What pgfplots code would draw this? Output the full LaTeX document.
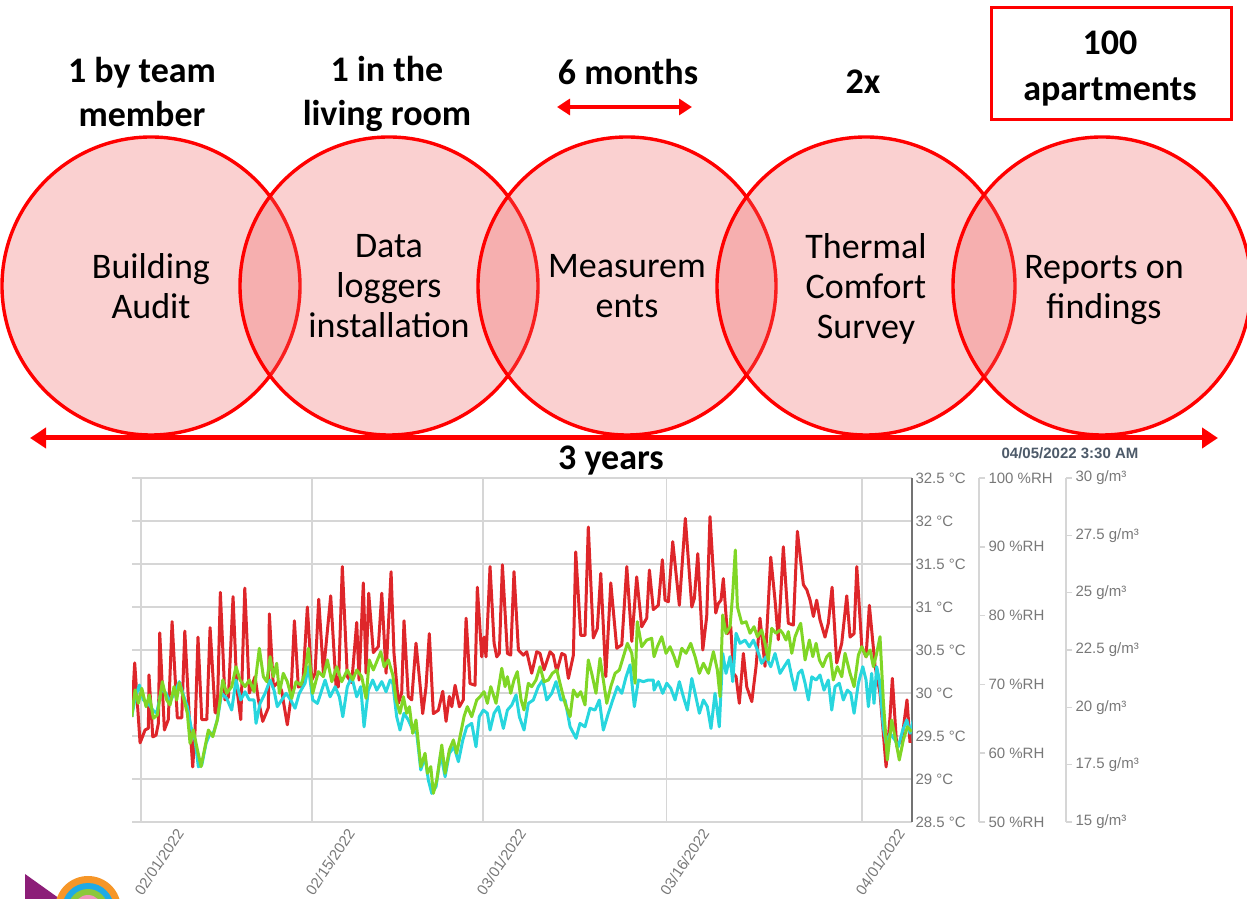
\documentclass[border=0pt]{standalone}
\usepackage{pgfplots}
\pgfplotsset{compat=1.18}
\usepackage{fontspec}
\setmainfont{Carlito}
\newfontfamily\arial{Liberation Sans}
\usetikzlibrary{arrows.meta}
\definecolor{pptred}{RGB}{255,0,0}
\definecolor{circfill}{RGB}{238,100,100}
\definecolor{tred}{RGB}{222,38,42}
\definecolor{tgreen}{RGB}{128,214,38}
\definecolor{tcyan}{RGB}{40,214,222}
\definecolor{tickgray}{RGB}{120,120,120}
\definecolor{gridgray}{RGB}{214,214,214}
\definecolor{titlegray}{RGB}{77,90,105}
\definecolor{lpurple}{RGB}{140,30,120}
\definecolor{lorange}{RGB}{246,150,40}
\definecolor{lblue}{RGB}{30,170,230}
\definecolor{lgreen}{RGB}{140,200,60}
\definecolor{lpink}{RGB}{240,150,190}
\begin{document}
\begin{tikzpicture}
\useasboundingbox (0,0) rectangle (1247pt,899pt);
% ---------- process diagram ----------
\foreach \cx in {151,389,627,866,1102} {
  \draw[pptred, line width=3.4pt, fill=circfill, fill opacity=0.3] (\cx pt,613pt) circle (149pt);
}
\begin{scope}[font=\fontsize{36}{40}\selectfont]
\node[align=center] at (151pt,613pt) {Building\\Audit};
\node[align=center] at (389pt,613pt) {Data\\loggers\\installation};
\node[align=center] at (627pt,613pt) {Measurem\\ents};
\node[align=center] at (866pt,610pt) {Thermal\\Comfort\\Survey};
\node[align=center] at (1104pt,609pt) {Reports on\\findings};
\end{scope}
\begin{scope}[font=\bfseries\fontsize{36}{44}\selectfont]
\node[align=center] at (142pt,807pt) {1 by team\\member};
\node[align=center] at (387pt,805pt) {1 in the\\living room};
\node at (628pt,827pt) {6 months};
\node at (863pt,817pt) {2x};
\node[align=center, font=\bfseries\fontsize{36}{46}\selectfont] at (1110pt,830pt) {100\\apartments};
\node at (611pt,438pt) {3 years};
\end{scope}
\draw[pptred, line width=3pt] (991pt,891pt) rectangle (1231pt,779pt);
\draw[pptred, line width=4pt, {Triangle[length=13pt,width=16pt]}-{Triangle[length=13pt,width=16pt]}] (557pt,792pt) -- (692pt,792pt);
\draw[pptred, line width=5pt, {Triangle[length=16pt,width=20pt]}-{Triangle[length=16pt,width=20pt]}] (30pt,461pt) -- (1218pt,461pt);
\node[font=\arial\bfseries\fontsize{15}{18}\selectfont, text=titlegray] at (1070pt,446pt) {04/05/2022 3:30 AM};
% ---------- logo (partial) ----------
\fill[lpurple] (25pt,25pt) -- (25pt,0pt) -- (60pt,0pt) -- cycle;
\fill[lorange] (88pt,-10pt) circle (33pt);
\fill[lblue] (88pt,-10pt) circle (26pt);
\fill[lgreen] (88pt,-10pt) circle (20pt);
\fill[lpink] (88pt,-10pt) circle (14pt);
\fill[white] (88pt,-10pt) circle (8pt);
% ---------- temperature axis ----------
\begin{axis}[
  at={(132pt,77pt)}, anchor=south west,
  scale only axis, width=780pt, height=344pt,
  xmin=-0.74, xmax=63.09, ymin=28.5, ymax=32.5,
  axis x line*=bottom, axis y line*=right,
  x axis line style={gridgray, line width=1.5pt, -},
  y axis line style={black!55, line width=1.5pt, -},
  xtick={0,14,28,43,59},
  xticklabels={02/01/2022,02/15/2022,03/01/2022,03/16/2022,04/01/2022},
  ytick={28.5,29,29.5,30,30.5,31,31.5,32,32.5},
  yticklabels={28.5 °C,29 °C,29.5 °C,30 °C,30.5 °C,31 °C,31.5 °C,32 °C,32.5 °C},
  major tick length=0pt,
  xmajorgrids, ymajorgrids,
  major grid style={gridgray, line width=1.5pt},
  tick label style={font=\arial\fontsize{15}{18}\selectfont, text=tickgray},
  xticklabel style={xshift=41pt, yshift=-6pt, rotate=56, anchor=east},
]
\addplot[tred, line width=3pt, line join=round] coordinates {
(-0.76,29.72)(-0.52,30.35)(-0.08,29.42)(0.33,29.57)(0.60,29.59)(0.65,30.21)(0.96,29.49)(1.23,29.51)(1.42,29.65)(1.53,30.70)(1.91,29.57)(2.23,29.69)(2.54,30.83)(2.97,29.71)(3.33,29.71)(3.58,30.72)(3.95,29.72)(4.23,29.14)(4.42,29.57)(4.66,30.65)(4.97,29.69)(5.38,29.69)(5.65,30.76)(6.06,29.77)(6.24,29.77)(6.49,31.17)(6.87,29.92)(7.15,29.95)(7.53,31.12)(7.83,30.07)(8.16,29.69)(8.49,31.22)(8.86,30.00)(9.33,30.19)(9.60,29.92)(9.96,29.67)(10.42,29.83)(10.50,30.92)(10.83,30.07)(11.24,30.13)(11.51,30.02)(11.97,29.63)(12.25,29.92)(12.55,30.84)(12.87,30.07)(13.23,30.09)(13.61,31.00)(13.97,30.15)(14.24,30.23)(14.54,31.09)(14.92,30.23)(15.52,31.13)(15.96,30.07)(16.15,30.07)(16.47,31.47)(16.88,30.19)(17.24,30.12)(17.65,30.82)(17.84,30.15)(18.19,31.28)(18.41,30.23)(18.63,31.16)(19.01,30.47)(19.42,30.54)(19.70,31.16)(20.05,30.23)(20.46,31.41)(20.70,30.46)(21.06,29.88)(21.33,30.00)(21.52,30.84)(21.87,29.96)(22.15,29.92)(22.50,30.58)(22.77,30.19)(23.05,29.76)(23.32,30.07)(23.59,30.69)(23.92,29.76)(24.33,29.80)(24.69,30.02)(24.96,29.67)(25.23,29.96)(25.43,29.84)(25.70,30.09)(26.05,29.84)(26.37,29.92)(26.60,30.87)(26.92,30.11)(27.33,30.09)(27.52,31.23)(27.88,30.42)(28.07,30.65)(28.23,30.42)(28.56,31.47)(28.89,30.58)(29.11,30.42)(29.32,30.46)(29.57,31.49)(29.98,30.46)(30.25,30.44)(30.52,31.41)(30.88,30.50)(31.28,30.44)(31.56,30.48)(31.97,30.23)(32.38,30.48)(32.65,30.46)(32.98,30.27)(33.47,30.48)(33.74,30.44)(34.02,30.25)(34.43,30.46)(34.70,30.44)(34.97,30.17)(35.38,30.44)(35.57,31.64)(35.98,30.67)(36.33,30.67)(36.60,31.93)(37.01,30.64)(37.34,30.75)(37.62,31.39)(38.03,30.19)(38.44,31.28)(38.93,30.52)(39.34,30.56)(39.75,31.47)(40.16,30.60)(40.56,31.35)(40.97,30.77)(41.38,30.87)(41.60,31.43)(41.92,30.97)(42.33,31.02)(42.66,31.55)(42.88,31.08)(43.15,31.06)(43.51,31.76)(44.05,31.02)(44.54,32.03)(45.07,31.00)(45.28,31.10)(45.56,31.62)(45.97,30.50)(46.29,30.89)(46.56,32.05)(47.03,30.93)(47.24,31.04)(47.46,31.08)(47.65,31.33)(47.98,30.69)(48.26,30.77)(48.47,30.23)(48.69,30.19)(48.96,29.88)(49.29,30.46)(49.57,30.07)(49.98,29.90)(50.33,30.31)(50.65,30.87)(51.06,30.31)(51.53,31.58)(51.88,31.08)(52.15,30.62)(52.56,31.70)(52.97,30.81)(53.38,30.79)(53.71,31.88)(54.20,31.26)(54.48,31.20)(54.75,31.08)(55.02,30.89)(55.29,31.08)(55.56,30.85)(55.97,30.65)(56.24,30.81)(56.55,31.23)(56.93,30.35)(57.34,30.58)(57.75,31.13)(58.02,30.65)(58.35,30.69)(58.57,31.47)(58.98,30.54)(59.33,30.42)(59.60,31.02)(60.07,30.31)(60.47,30.00)(60.97,29.14)(61.29,29.72)(61.48,30.17)(61.84,29.38)(62.25,29.45)(62.68,29.92)(62.93,29.42)
};
\end{axis}
% ---------- absolute humidity (g/m3) ----------
\begin{axis}[
  at={(132pt,77pt)}, anchor=south west,
  scale only axis, width=780pt, height=344pt,
  xmin=-0.74, xmax=63.09, ymin=15, ymax=30, hide axis,
]
\addplot[tcyan, line width=3pt, line join=round] coordinates {
(-0.76,19.59)(-0.49,20.39)(-0.14,20.97)(0.19,20.32)(0.60,20.17)(0.96,19.88)(1.28,19.74)(1.69,20.83)(2.05,20.61)(2.37,20.24)(2.78,20.68)(3.13,21.12)(3.46,20.54)(3.79,20.03)(4.09,19.15)(4.42,18.57)(4.69,17.41)(4.97,17.48)(5.32,18.43)(5.65,18.87)(5.92,18.87)(6.24,19.45)(6.60,20.61)(7.01,20.39)(7.42,19.88)(7.77,21.19)(8.16,20.32)(8.51,20.68)(8.86,20.32)(9.25,20.32)(9.41,19.30)(9.74,20.17)(10.15,20.61)(10.56,21.19)(10.88,20.75)(11.15,20.03)(11.51,20.32)(11.87,20.61)(12.25,20.32)(12.60,19.96)(12.95,20.61)(13.42,21.05)(13.69,21.77)(14.05,20.32)(14.43,20.17)(14.79,20.75)(15.06,21.19)(15.47,20.46)(15.88,20.90)(16.23,20.46)(16.51,19.59)(16.88,20.90)(17.24,21.33)(17.65,20.46)(17.98,20.90)(18.25,19.15)(18.60,20.75)(18.96,21.19)(19.29,20.75)(19.70,21.12)(20.05,20.68)(20.38,21.19)(20.60,21.05)(20.92,19.59)(21.19,19.01)(21.52,19.74)(21.87,19.45)(22.23,19.01)(22.56,18.87)(22.89,17.27)(23.24,17.85)(23.51,16.83)(23.79,16.25)(24.14,16.54)(24.53,17.99)(24.88,16.97)(25.23,17.99)(25.61,18.28)(25.97,17.63)(26.33,18.57)(26.65,19.15)(27.06,19.30)(27.41,18.28)(27.68,19.59)(28.01,19.88)(28.34,19.74)(28.56,19.01)(28.89,19.74)(29.24,20.03)(29.65,19.08)(29.98,19.88)(30.34,20.10)(30.69,20.54)(30.96,19.59)(31.34,19.01)(31.69,20.17)(32.10,20.32)(32.51,20.90)(32.87,21.19)(33.20,20.32)(33.61,20.61)(33.96,21.12)(34.35,20.32)(34.70,20.32)(35.11,19.15)(35.60,18.65)(35.92,19.30)(36.33,19.15)(36.74,19.96)(37.15,19.88)(37.50,20.32)(37.83,19.01)(38.24,19.74)(38.60,20.32)(38.98,20.90)(39.34,20.61)(39.69,21.33)(40.02,21.85)(40.37,20.03)(40.70,21.19)(41.10,21.12)(41.51,21.19)(41.92,21.19)(41.98,20.75)(42.33,21.12)(42.69,20.61)(43.02,21.05)(43.35,20.83)(43.70,20.32)(44.05,21.12)(44.38,20.46)(44.71,19.88)(45.07,21.26)(45.34,20.61)(45.69,19.74)(46.02,20.32)(46.34,20.03)(46.64,19.08)(46.97,20.61)(47.32,19.15)(47.60,22.35)(47.87,21.48)(48.20,22.21)(48.42,21.12)(48.69,23.23)(49.02,22.79)(49.43,22.93)(49.78,22.64)(50.11,22.93)(50.44,22.50)(50.79,21.92)(51.15,22.21)(51.53,21.77)(51.88,22.35)(52.29,21.48)(52.62,21.77)(52.97,22.06)(53.25,21.33)(53.52,20.75)(53.79,21.48)(54.07,21.63)(54.34,21.05)(54.61,20.32)(54.89,21.33)(55.24,21.19)(55.56,21.41)(55.89,20.75)(56.24,21.19)(56.52,19.88)(56.79,20.90)(57.14,21.05)(57.47,20.32)(57.80,20.75)(58.08,20.61)(58.35,19.74)(58.70,21.05)(59.06,21.77)(59.33,21.19)(59.52,20.03)(59.79,21.48)(59.98,20.17)(60.20,21.77)(60.42,21.19)(60.74,19.15)(60.97,18.43)(61.29,18.87)(61.70,18.57)(61.97,18.28)(62.33,19.01)(62.66,19.45)(62.93,18.87)(63.20,19.45)
};
\end{axis}
% ---------- relative humidity (%RH) ----------
\begin{axis}[
  at={(132pt,77pt)}, anchor=south west,
  scale only axis, width=780pt, height=344pt,
  xmin=-0.74, xmax=63.09, ymin=50, ymax=100, hide axis,
]
\addplot[tgreen, line width=3pt, line join=round] coordinates {
(-0.76,65.31)(-0.49,69.19)(-0.22,67.25)(0.06,69.43)(0.41,66.76)(0.68,68.46)(1.01,65.07)(1.33,65.55)(1.74,70.39)(2.10,67.73)(2.37,67.01)(2.70,69.67)(2.92,67.73)(3.13,70.25)(3.52,67.73)(3.79,65.80)(4.01,61.44)(4.28,63.37)(4.56,60.94)(4.91,58.04)(5.24,60.94)(5.51,63.37)(5.87,62.40)(6.24,64.83)(6.69,70.64)(7.01,68.71)(7.42,69.67)(7.77,72.57)(8.10,70.64)(8.51,69.67)(8.86,70.64)(9.25,68.94)(9.68,75.25)(10.01,71.12)(10.29,70.39)(10.56,74.03)(10.83,71.12)(11.10,73.07)(11.32,68.71)(11.64,71.61)(11.97,70.39)(12.33,67.98)(12.68,70.39)(13.07,69.91)(13.42,71.61)(13.69,75.25)(14.05,68.71)(14.51,71.85)(14.92,71.12)(15.25,73.55)(15.61,70.39)(16.01,72.57)(16.42,70.39)(16.88,72.09)(17.32,70.64)(17.65,72.09)(18.06,71.12)(18.41,67.98)(18.68,73.55)(19.01,72.09)(19.29,73.30)(19.62,74.75)(19.89,72.57)(20.24,73.55)(20.60,71.37)(20.87,67.73)(21.19,65.80)(21.47,68.21)(21.74,65.80)(21.96,66.76)(22.23,62.89)(22.50,64.83)(22.89,58.04)(23.24,59.99)(23.43,57.08)(23.71,58.04)(23.92,54.17)(24.20,56.10)(24.61,61.19)(24.88,57.08)(25.23,60.47)(25.56,61.92)(25.83,59.99)(26.10,62.40)(26.43,65.31)(26.70,66.76)(27.06,65.31)(27.47,67.73)(27.74,68.21)(28.07,68.94)(28.34,67.25)(28.62,69.67)(29.05,67.25)(29.52,72.34)(29.79,69.67)(29.98,71.12)(30.25,68.71)(30.52,70.64)(30.79,71.85)(31.10,67.73)(31.34,66.28)(31.69,70.16)(31.97,69.67)(32.32,70.64)(32.65,72.57)(32.98,70.39)(33.33,70.64)(33.66,71.61)(34.02,72.09)(34.35,69.67)(34.70,67.25)(35.11,65.31)(35.38,69.19)(35.70,68.21)(35.98,68.94)(36.33,67.01)(36.60,73.55)(36.88,71.61)(37.23,68.71)(37.56,73.79)(37.83,70.64)(38.11,67.25)(38.44,69.67)(38.79,71.61)(39.14,72.09)(39.47,74.03)(39.80,75.97)(40.16,74.52)(40.43,70.16)(40.61,79.11)(40.97,75.48)(41.38,76.45)(41.79,76.70)(41.98,74.03)(42.25,75.48)(42.61,76.93)(42.96,74.52)(43.29,75.48)(43.62,74.03)(43.89,72.57)(44.25,75.25)(44.60,74.52)(44.98,75.97)(45.34,74.03)(45.69,71.61)(46.02,73.07)(46.43,71.61)(46.84,74.75)(47.16,72.09)(47.38,68.21)(47.60,80.09)(47.87,77.43)(48.20,78.39)(48.42,83.24)(48.63,89.53)(48.80,81.29)(49.16,78.88)(49.51,79.11)(49.84,77.43)(50.16,78.39)(50.44,76.93)(50.79,77.91)(51.06,75.97)(51.33,73.55)(51.61,78.15)(51.96,77.43)(52.29,77.91)(52.51,77.43)(52.78,76.45)(52.97,77.67)(53.25,74.52)(53.52,76.93)(53.79,78.15)(53.98,78.88)(54.34,73.55)(54.69,76.45)(54.97,74.03)(55.24,75.97)(55.51,73.55)(55.79,72.57)(56.11,74.03)(56.38,74.52)(56.65,70.64)(56.98,72.57)(57.34,71.12)(57.61,74.52)(58.02,71.61)(58.35,69.67)(58.70,74.27)(58.98,75.48)(59.33,74.03)(59.66,75.00)(59.93,72.57)(60.20,74.52)(60.47,76.93)(60.74,67.73)(61.07,59.01)(61.43,64.83)(61.70,62.40)(62.05,59.01)(62.38,61.92)(62.71,63.85)(63.07,63.13)
};
\end{axis}
% ---------- %RH scale ----------
\begin{axis}[
  at={(979pt,77pt)}, anchor=south east,
  scale only axis, width=0.5pt, height=344pt,
  xmin=0, xmax=1, ymin=50, ymax=100,
  axis x line=none, axis y line*=right,
  y axis line style={gridgray, line width=1.5pt, -},
  ytick={50,60,70,80,90,100},
  yticklabels={50 \%RH,60 \%RH,70 \%RH,80 \%RH,90 \%RH,100 \%RH},
  tick align=outside, major tick length=6pt,
  major tick style={gridgray, line width=1.5pt},
  tick label style={font=\arial\fontsize{15}{18}\selectfont, text=tickgray},
]
\end{axis}
% ---------- g/m3 scale ----------
\begin{axis}[
  at={(1066pt,77pt)}, anchor=south east,
  scale only axis, width=0.5pt, height=344pt,
  xmin=0, xmax=1, ymin=15, ymax=30,
  axis x line=none, axis y line*=right,
  y axis line style={gridgray, line width=1.5pt, -},
  ytick={15,17.5,20,22.5,25,27.5,30},
  yticklabels={15 g/m³,17.5 g/m³,20 g/m³,22.5 g/m³,25 g/m³,27.5 g/m³,30 g/m³},
  tick align=outside, major tick length=6pt,
  major tick style={gridgray, line width=1.5pt},
  tick label style={font=\arial\fontsize{15}{18}\selectfont, text=tickgray},
]
\end{axis}
\end{tikzpicture}
\end{document}
